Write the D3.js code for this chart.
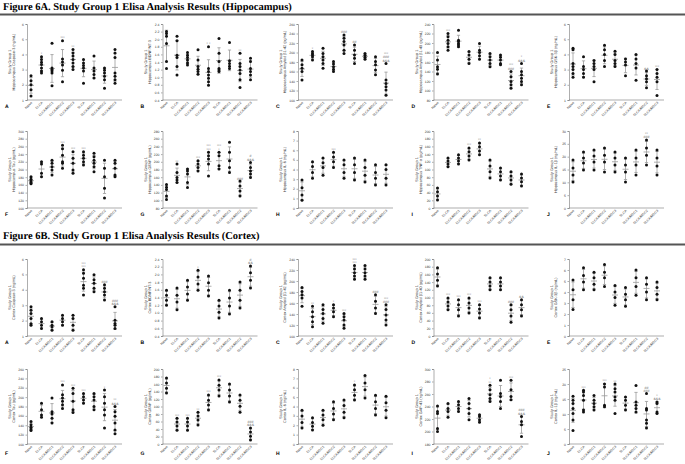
<!DOCTYPE html>
<html lang="en">
<head>
<meta charset="UTF-8">
<title>Figure 6</title>
<style>
  body { margin: 0; background: #fff; }
  svg text { text-rendering: geometricPrecision; }
  .title { font-family: "Liberation Serif", serif; font-weight: bold; font-size: 10.5px; fill: #000; }
  .tick text { font-family: Arial, "Liberation Sans", sans-serif; font-size: 3.4px; fill: #333; }
  .domain, .tick line { stroke: #777; stroke-width: 0.6; }
  .cat { font-family: Arial, "Liberation Sans", sans-serif; font-size: 3.4px; fill: #333; }
  .ylab { font-family: Arial, "Liberation Sans", sans-serif; font-size: 3.8px; fill: #333; }
  .letter { font-family: Arial, "Liberation Sans", sans-serif; font-size: 5px; font-weight: bold; fill: #000; }
  .sig { font-family: Arial, "Liberation Sans", sans-serif; font-size: 3.6px; fill: #777; }
  .err { stroke: #999; stroke-width: 0.8; }
</style>
</head>
<body>
<div id="chart"></div>
<script src="https://cdnjs.cloudflare.com/ajax/libs/d3/7.8.5/d3.min.js"></script>
<script>
var groups = ['Naive', 'ELCA', 'ELCA/MSC1', 'ELCA/MSC2', 'ELCA/MSC3', 'SLCA', 'SLCA/MSC1', 'SLCA/MSC2', 'SLCA/MSC3'];

// Figure 6A - hippocampus
var hipA = [[2.6, 2.27, 2.0, 1.67, 1.27], [3.84, 3.67, 3.49, 3.33, 3.1, 2.9, 2.78], [4.73, 3.1, 3.0, 2.9, 2.78, 1.93], [4.9, 3.7, 3.5, 3.3, 2.95, 2.2], [4.33, 4.1, 3.9, 3.67, 3.44, 3.2, 3.0], [3.67, 3.44, 3.27, 3.1, 2.9, 2.1], [3.9, 3.1, 2.9, 2.67, 2.44], [3.1, 2.95, 2.78, 2.56, 2.33, 1.78], [4.33, 4.1, 3.8, 2.78, 2.56, 2.33, 2.1]];
var hipB = [[2.2, 2.15, 2.08, 1.89, 1.41, 1.23], [2.08, 1.96, 1.58, 1.52, 1.28, 1.06], [1.65, 1.58, 1.52, 1.45, 1.38, 1.32], [1.72, 1.45, 1.28, 1.21, 1.15, 1.08], [1.8, 1.23, 1.15, 1.06, 0.97, 0.88, 0.79], [2.02, 1.63, 1.41, 1.23, 1.19, 1.15], [1.91, 1.43, 1.36, 1.29, 1.23], [1.63, 1.36, 1.28, 1.19, 1.1, 0.93, 0.73], [1.5, 1.41, 1.23, 1.15, 1.06, 0.93]];
var hipC = [[184, 174, 167, 160, 142], [202, 198, 195, 191, 184], [209, 198, 191, 184, 177, 167], [181, 176, 170, 165, 160], [237, 230, 223, 216, 205, 198], [216, 205, 195, 188, 177], [198, 194, 190, 186], [191, 181, 174, 163, 153], [177, 142, 135, 128, 121, 110]];
var hipD = [[180, 164, 150, 145, 135], [220, 213, 206, 199, 192, 185], [227, 206, 203, 199, 196, 192], [182, 175, 166, 157], [199, 185, 180, 173, 166], [178, 171, 164, 157, 150], [175, 170, 164, 157, 154], [140, 129, 119, 112, 105], [157, 140, 133, 126, 119, 112]];
var hipE = [[4.4, 4.3, 3.4, 3.2, 3.0, 2.75, 2.5], [3.85, 3.2, 3.0, 2.75, 2.5], [3.6, 3.4, 3.2, 3.0, 2.2], [4.6, 4.3, 4.0, 3.6, 3.2], [4.2, 4.0, 3.6, 3.4, 3.2], [3.7, 3.5, 3.3, 2.6], [4.0, 3.7, 3.4, 3.1, 2.3], [2.9, 2.6, 2.4, 2.2, 1.8], [3.0, 2.75, 2.5, 2.2, 1.3]];
var hipF = [[181, 175, 170, 166, 163], [220, 214, 190, 181], [224, 216, 207, 199, 186], [263, 254, 237, 220, 216, 203], [246, 229, 216, 199, 190], [246, 237, 229, 220, 212], [242, 233, 224, 216, 207, 194], [224, 203, 181, 151, 126], [224, 216, 203, 186, 181]];
var hipG = [[141, 134, 128, 111, 102], [194, 172, 159, 153, 146], [181, 176, 168, 146, 133], [203, 194, 185, 176], [225, 216, 207, 194, 163], [225, 216, 190, 181], [251, 225, 203, 185, 172], [150, 137, 124, 111], [198, 185, 176, 168, 159]];
var hipH = [[2.9, 2.1, 1.35, 0.8], [4.8, 4.3, 3.7, 3.1], [5.2, 4.7, 4.2, 3.4], [5.8, 5.3, 4.8, 4.2], [5.0, 4.5, 3.7, 3.1], [5.2, 4.5, 3.7, 2.9], [5.0, 4.2, 3.4, 2.7], [4.5, 3.7, 3.1, 2.4], [4.5, 4.0, 3.1, 2.4]];
var hipI = [[52, 42, 31, 21], [130, 122, 114, 107], [138, 130, 122, 114], [156, 146, 135, 125], [169, 159, 148, 138], [125, 109, 94, 78], [104, 94, 83, 73], [94, 83, 73, 62], [88, 78, 68, 57]];
var hipJ = [[18.7, 15.6, 12.9, 10.1], [21.8, 19.5, 17.5, 14.8], [22.6, 20.3, 17.9, 14.8], [23.4, 20.6, 17.9, 14.0], [21.8, 19.5, 16.8, 14.0], [19.5, 16.8, 14.0, 10.1], [22.6, 19.5, 16.8, 12.9], [26.5, 23.4, 20.6, 16.8], [22.6, 19.5, 16.4, 12.9]];

// Figure 6B - cortex
var ctxA = [[2.9, 2.68, 2.46, 2.13, 1.8, 1.7], [2.13, 1.92, 1.7, 1.48], [1.92, 1.7, 1.59, 1.37], [2.35, 2.13, 1.92, 1.7], [2.35, 2.13, 1.7, 1.37], [5.3, 5.08, 4.75, 4.3, 4.1, 3.66], [4.97, 4.65, 4.43, 4.1, 3.88], [4.32, 4.1, 3.88, 3.66, 3.34], [2.9, 2.03, 1.81, 1.7, 1.48]];
var ctxB = [[1.59, 1.46, 1.33, 1.2], [1.65, 1.46, 1.28, 1.08], [1.85, 1.67, 1.49, 1.33], [2.11, 1.93, 1.75, 1.59], [1.96, 1.78, 1.59, 1.44], [1.33, 1.18, 1.02, 0.87], [1.59, 1.39, 1.18, 0.97], [1.8, 1.59, 1.33, 1.13], [2.22, 2.04, 1.85, 1.65]];
var ctxC = [[188, 181, 175, 169, 154], [154, 144, 135, 126, 117], [157, 148, 141, 132, 123], [157, 151, 144, 135], [141, 135, 129, 120, 114], [228, 222, 215, 209, 203], [228, 222, 215, 209, 203], [175, 163, 151, 141], [157, 148, 138, 129, 120]];
var ctxD = [[177, 161, 145, 130], [99, 88, 78, 68], [94, 81, 68, 52], [99, 86, 73, 60], [81, 70, 60, 47], [151, 140, 130, 120], [151, 140, 130, 120], [81, 68, 52, 36], [94, 81, 68, 52]];
var ctxE = [[5.1, 4.2, 3.3, 2.4], [6.2, 5.5, 4.9, 4.2], [5.8, 5.3, 4.7, 4.2], [6.5, 5.8, 5.3, 4.5], [4.6, 4.0, 3.5, 2.8], [4.4, 3.8, 3.3, 2.7], [6.0, 5.3, 4.5, 3.7], [5.3, 4.7, 4.0, 3.3], [4.9, 4.4, 3.8, 3.3]];
var ctxF = [[148, 141, 136, 132, 129], [187, 173, 162, 157], [198, 169, 164, 155, 145], [226, 205, 198, 191, 184, 176], [219, 208, 191, 173, 167], [208, 201, 194, 187], [208, 201, 194, 180, 173], [215, 201, 187, 173, 162, 134], [180, 169, 159, 145, 130, 122]];
var ctxG = [[176, 163, 149, 136], [69, 59, 48, 37], [69, 59, 48, 37], [85, 75, 64, 51], [131, 117, 104, 91], [171, 157, 144, 128], [160, 144, 128, 112], [131, 117, 101, 85], [43, 32, 21, 11]];
var ctxH = [[3.6, 3.0, 2.3, 1.7], [2.8, 2.3, 1.9, 1.5], [3.6, 3.1, 2.6, 2.0], [4.5, 3.8, 3.2, 2.6], [4.7, 4.1, 3.4, 2.8], [6.3, 5.8, 5.2, 4.7], [7.3, 6.5, 5.8, 4.9], [5.2, 4.5, 3.8, 3.1], [5.1, 4.4, 3.6, 2.8]];
var ctxI = [[241, 232, 229, 205, 200], [245, 237, 232, 223], [248, 243, 237, 232], [253, 245, 237, 229, 219], [227, 224, 219, 215], [274, 267, 259, 253, 248], [282, 261, 256, 248, 237], [282, 267, 256, 251], [224, 216, 211, 192]];
var ctxJ = [[15.9, 14.6, 13.5, 11.8, 10.2, 8.0, 4.5], [17.9, 17.3, 16.2, 14.6, 11.3, 10.7], [16.2, 14.6, 13.5, 12.4, 11.3], [20, 19, 12.9, 12.4], [20, 18.4, 17.3, 15.7, 14.6, 10.2], [15.7, 14.6, 12.9, 11.3], [19.5, 14, 12.9, 11.8, 10.7], [16.8, 11.8, 11.3, 8.0, 6.9, 5.3], [14, 13.5, 10.7, 10.2]];

// significance marks above each group
var hipSig = {
  A: ['', '*', '', '***', '**', '', '', '', ''],
  B: ['', '', '', '', '* *', '', '', '**', ''],
  C: ['', '*', '', '', '###', '##', '', '', '***|###|&&&'],
  D: ['', '***', '', '', '', '', '', '***|###', '*|&&&'],
  E: ['', '', '', '', '', '', '', '&&', '***'],
  F: ['', '', '', '***', '***', '***', '', '', ''],
  G: ['', '**', '', '***', '***|***', '***|*', '', '###', '#|&&&'],
  H: ['', '', '', '***', '', '', '', '', ''],
  I: ['', '', '', '***', '**', '', '', '', ''],
  J: ['', '', '', '', '', '', '', '**|###', '']
};
var ctxSig = {
  A: ['', '', '', '', '', '***|***', '', '###', '###|&&&'],
  B: ['', '', '', '*', '', '', '', '', '#|&&'],
  C: ['', '**', '', '*', '***', '***|***', '', '###', '***|###'],
  D: ['', '***', '***', '***', '***', '', '', '###', '&&'],
  E: ['', '', '', '', '', '', '', '', ''],
  F: ['', '', '', '***', '***', '***', '', '*', '**|&&&'],
  G: ['', '***', '***', '**', '***', '***', '', '', '###|&&&'],
  H: ['', '', '', '', '', '*', '', '', ''],
  I: ['', '', '', '', '', '*|**', '', '***', '###|&&&'],
  J: ['', '***', '', '***', '**', '', '', '##|###', '*|&&&']
};

var panels = [
  { id: 'A', fig: 'hip', data: hipA, dom: [1, 6], step: 1, fmt: 'd', lab: 'Hippocampus Caspase-3 (ng/mL)' },
  { id: 'B', fig: 'hip', data: hipB, dom: [0.4, 2.4], step: 0.2, fmt: '.1f', lab: 'Hippocampus BDNF/NT-3' },
  { id: 'C', fig: 'hip', data: hipC, dom: [100, 260], step: 20, fmt: 'd', lab: 'Hippocampus Amyloid \u03b21-42 (pg/mL)' },
  { id: 'D', fig: 'hip', data: hipD, dom: [80, 240], step: 20, fmt: 'd', lab: 'Hippocampus Amyloid \u03b21-40 (pg/mL)' },
  { id: 'E', fig: 'hip', data: hipE, dom: [1, 6], step: 1, fmt: 'd', lab: 'Hippocampus GSK-3\u03b2 (ng/mL)' },
  { id: 'F', fig: 'hip', data: hipF, dom: [100, 300], step: 20, fmt: 'd', lab: 'Hippocampus Tau (pg/mL)' },
  { id: 'G', fig: 'hip', data: hipG, dom: [80, 280], step: 20, fmt: 'd', lab: 'Hippocampus GFAP (pg/mL)' },
  { id: 'H', fig: 'hip', data: hipH, dom: [0, 8], step: 1, fmt: 'd', lab: 'Hippocampus IL-6 (ng/mL)' },
  { id: 'I', fig: 'hip', data: hipI, dom: [0, 200], step: 20, fmt: 'd', lab: 'Hippocampus TNF-\u03b1 (pg/mL)' },
  { id: 'J', fig: 'hip', data: hipJ, dom: [0, 30], step: 5, fmt: 'd', lab: 'Hippocampus IL-1\u03b2 (ng/mL)' },
  { id: 'A', fig: 'ctx', data: ctxA, dom: [1, 6], step: 1, fmt: 'd', lab: 'Cortex Caspase-3 (ng/mL)' },
  { id: 'B', fig: 'ctx', data: ctxB, dom: [0.4, 2.4], step: 0.2, fmt: '.1f', lab: 'Cortex BDNF/NT-3' },
  { id: 'C', fig: 'ctx', data: ctxC, dom: [100, 240], step: 20, fmt: 'd', lab: 'Cortex Amyloid \u03b21-42 (pg/mL)' },
  { id: 'D', fig: 'ctx', data: ctxD, dom: [0, 200], step: 20, fmt: 'd', lab: 'Cortex Amyloid \u03b21-40 (pg/mL)' },
  { id: 'E', fig: 'ctx', data: ctxE, dom: [0, 7], step: 1, fmt: 'd', lab: 'Cortex GSK-3\u03b2 (ng/mL)' },
  { id: 'F', fig: 'ctx', data: ctxF, dom: [100, 260], step: 20, fmt: 'd', lab: 'Cortex Tau (pg/mL)' },
  { id: 'G', fig: 'ctx', data: ctxG, dom: [0, 200], step: 20, fmt: 'd', lab: 'Cortex GFAP (pg/mL)' },
  { id: 'H', fig: 'ctx', data: ctxH, dom: [0, 8], step: 1, fmt: 'd', lab: 'Cortex IL-6 (ng/mL)' },
  { id: 'I', fig: 'ctx', data: ctxI, dom: [180, 300], step: 20, fmt: 'd', lab: 'Cortex GAP-43 (ng/mL)' },
  { id: 'J', fig: 'ctx', data: ctxJ, dom: [0, 25], step: 5, fmt: 'd', lab: 'Cortex IL-1\u03b2 (ng/mL)' }
];

var W = 685, H = 464;
var colX = [0, 135.5, 271, 406.5, 542];
var rows = [{ top: 24, bottom: 100 }, { top: 131, bottom: 208 }, { top: 259, bottom: 336 }, { top: 369, bottom: 444 }];

var svg = d3.select('#chart').append('svg')
  .attr('width', W)
  .attr('height', H);

// figure headings
function heading(txt, y, lineY) {
  svg.append('text').attr('class', 'title').attr('x', 3).attr('y', y).text(txt);
  svg.append('line').attr('x1', 0).attr('x2', W).attr('y1', lineY).attr('y2', lineY)
    .attr('stroke', '#555').attr('stroke-width', 2.2);
}
heading('Figure 6A. Study Group 1 Elisa Analysis Results (Hippocampus)', 10, 14.5);
heading('Figure 6B. Study Group 1 Elisa Analysis Results (Cortex)', 239, 244.5);

panels.forEach(function (p, i) {
  var r = rows[Math.floor(i / 5)];
  var ax = colX[i % 5] + 27;
  var g = svg.append('g');

  var x = d3.scalePoint().domain(groups).range([ax + 4, ax + 88]);
  var y = d3.scaleLinear().domain(p.dom).range([r.bottom, r.top]);
  var ticks = d3.range(p.dom[0], p.dom[1] + p.step / 2, p.step);

  g.append('g').attr('transform', 'translate(' + ax + ',0)')
    .call(d3.axisLeft(y).tickValues(ticks).tickSize(1.5).tickPadding(1.5).tickFormat(d3.format(p.fmt)));
  g.append('g').attr('transform', 'translate(0,' + r.bottom + ')')
    .call(d3.axisBottom(x).tickSize(0).tickFormat(''))
    .select('.domain').attr('d', 'M' + ax + ',0H' + (ax + 95));

  // category labels
  g.selectAll('text.cat').data(groups).enter().append('text')
    .attr('class', 'cat')
    .attr('text-anchor', 'end')
    .attr('transform', function (d) { return 'translate(' + (x(d) + 1.5) + ',' + (r.bottom + 3) + ') rotate(-45)'; })
    .text(function (d) { return d; });

  // y label
  var yl = g.append('text').attr('class', 'ylab').attr('text-anchor', 'middle')
    .attr('transform', 'translate(' + (ax - 16) + ',' + ((r.top + r.bottom) / 2) + ') rotate(-90)');
  yl.append('tspan').attr('x', 0).attr('dy', 0).text('Study Group 1');
  yl.append('tspan').attr('x', 0).attr('dy', 4.4).text(p.lab);

  g.append('text').attr('class', 'letter').attr('x', colX[i % 5] + 5).attr('y', r.bottom + (i >= 15 ? 11 : 8)).text(p.id);

  var stats = p.data.map(function (v, k) {
    return { grp: groups[k], v: v, m: d3.mean(v), s: d3.deviation(v) };
  });

  // error bars (mean +/- SD)
  var eb = g.selectAll('g.eb').data(stats).enter().append('g').attr('class', 'eb');
  eb.append('line').attr('class', 'err')
    .attr('x1', function (d) { return x(d.grp); }).attr('x2', function (d) { return x(d.grp); })
    .attr('y1', function (d) { return y(d.m + d.s); }).attr('y2', function (d) { return y(d.m - d.s); });
  [1, -1].forEach(function (sgn) {
    eb.append('line').attr('class', 'err')
      .attr('x1', function (d) { return x(d.grp) - 1.6; }).attr('x2', function (d) { return x(d.grp) + 1.6; })
      .attr('y1', function (d) { return y(d.m + sgn * d.s); }).attr('y2', function (d) { return y(d.m + sgn * d.s); });
  });
  eb.append('line').attr('class', 'err')
    .attr('x1', function (d) { return x(d.grp) - 3; }).attr('x2', function (d) { return x(d.grp) + 3; })
    .attr('y1', function (d) { return y(d.m); }).attr('y2', function (d) { return y(d.m); });

  // individual points
  stats.forEach(function (st) {
    g.selectAll(null).data(st.v).enter().append('circle')
      .attr('cx', x(st.grp))
      .attr('cy', function (d) { return y(d); })
      .attr('r', 1.5)
      .attr('fill', '#111');
  });

  // significance marks
  var sig = (p.fig === 'hip' ? hipSig : ctxSig)[p.id];
  stats.forEach(function (st, k) {
    if (!sig[k]) return;
    var parts = sig[k].split('|');
    var topY = Math.min(y(st.m + st.s), y(d3.max(st.v))) - 1.5;
    parts.forEach(function (s, j) {
      g.append('text').attr('class', 'sig').attr('text-anchor', 'middle')
        .attr('x', x(st.grp)).attr('y', topY - (parts.length - 1 - j) * 3.6)
        .text(s);
    });
  });
});
</script>
</body>
</html>
